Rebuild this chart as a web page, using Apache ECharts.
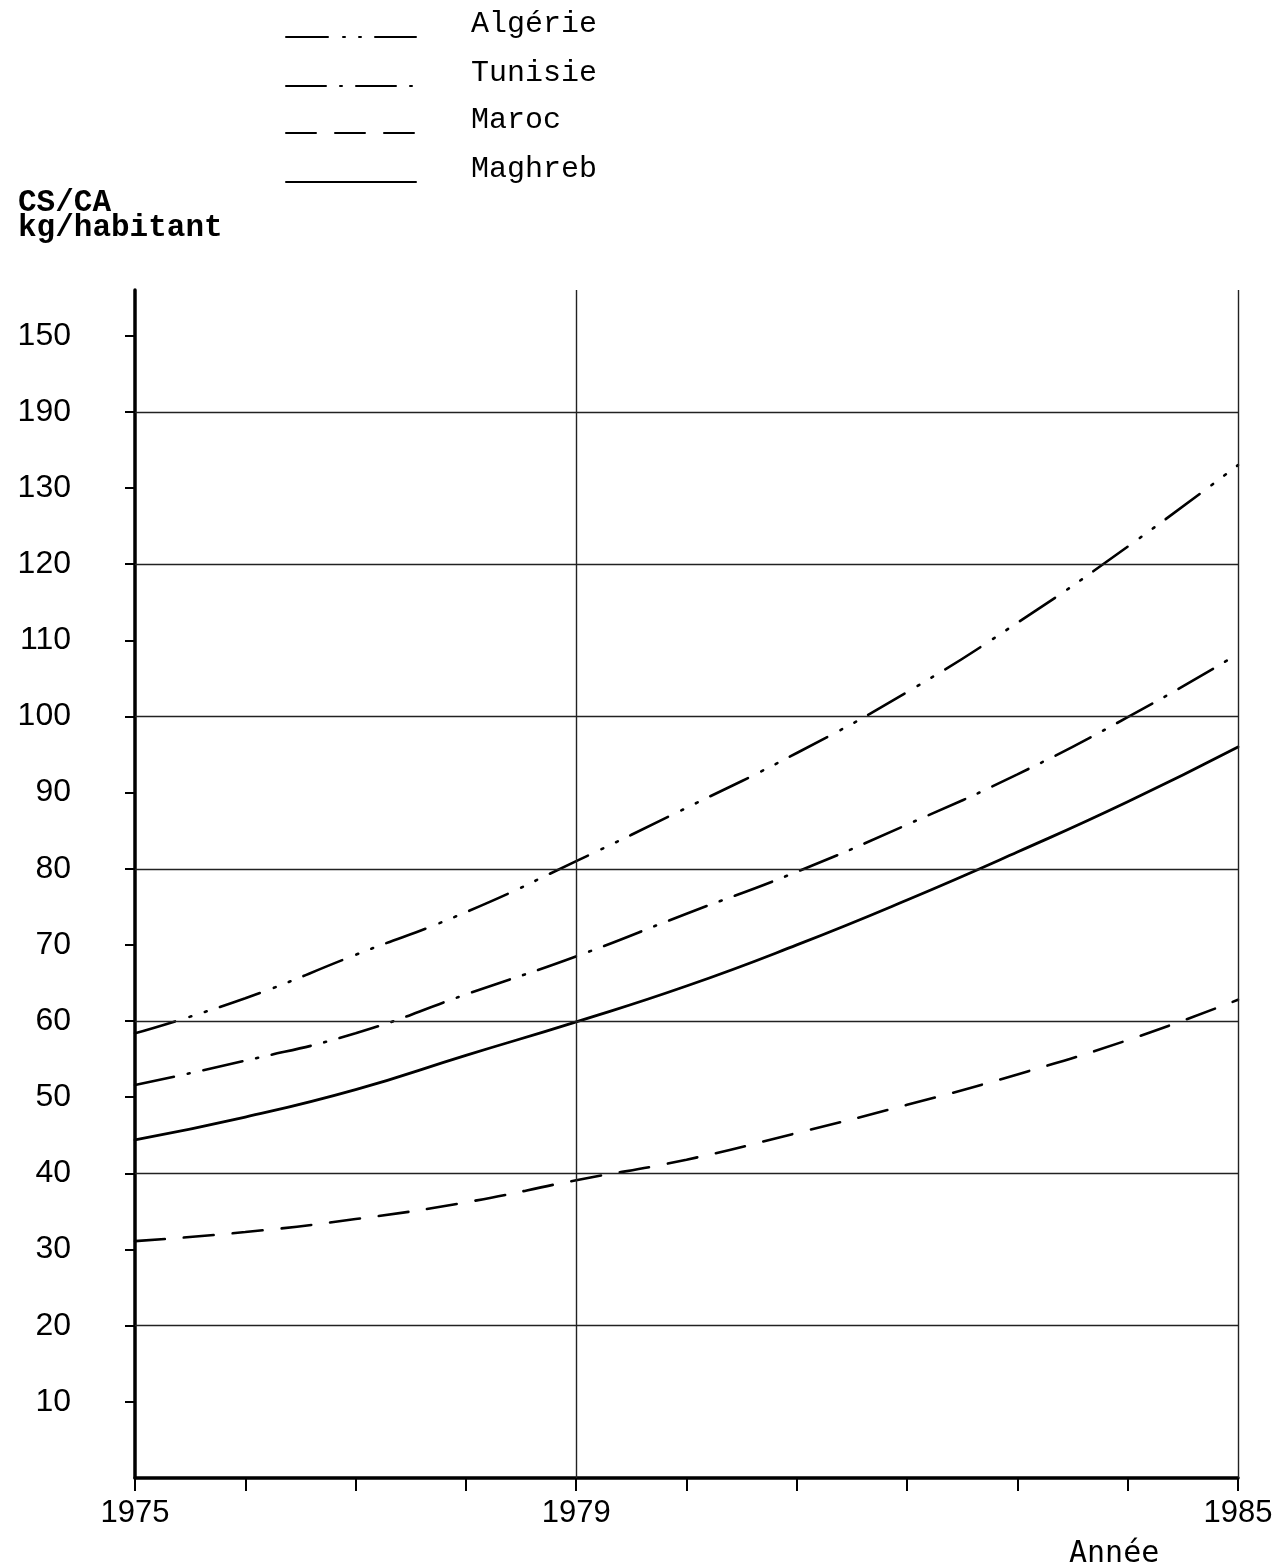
<!DOCTYPE html>
<html>
<head>
<meta charset="utf-8">
<script src="https://cdn.jsdelivr.net/npm/echarts@6/dist/echarts.min.js"></script>
<style>
html,body{margin:0;padding:0;background:#fff;}
#chart{width:1277px;height:1568px;}
</style>
</head>
<body>
<div id="chart"></div>
<script>
// ---- data ----
const years = [1975,1976,1977,1978,1979,1980,1981,1982,1983,1984,1985];
const algerie = [58.4,63.0,68.7,74.3,81.0,88.0,95.2,103.2,112.3,122.3,133.0];
const tunisie = [51.6,54.8,58.4,63.5,68.5,74.1,79.6,85.8,92.4,99.9,108.2];
const maroc   = [31.1,32.3,34.0,36.2,39.1,41.8,45.3,49.0,53.0,57.5,62.8];
const maghreb = [44.4,47.4,51.0,55.5,59.9,64.6,70.0,75.9,82.2,88.8,96.0];
const yTickValues = [10,20,30,40,50,60,70,80,90,100,110,120,130,140,150];
const yTickLabels = ['10','20','30','40','50','60','70','80','90','100','110','120','130','190','150'];
const xLabelValues = [1975,1979,1985];
const xLabelTexts = ['1975','1979','1985'];
const gridYValues = [20,40,60,80,100,120,140];
const gridXValues = [1979,1985];
const legendLabels = ['Algérie','Tunisie','Maroc','Maghreb'];

// ---- chart ----
const chart = echarts.init(document.getElementById('chart'), null, {renderer:'canvas'});
const pairs = arr => years.map((y,i)=>[y,arr[i]]);
const dashes = {
  'Algérie':[42,15,2,14,2,14],
  'Tunisie':[40,14,2,14],
  'Maroc':[30,19],
  'Maghreb':'solid'
};
const dataArr = {'Algérie':algerie,'Tunisie':tunisie,'Maroc':maroc,'Maghreb':maghreb};
const legendTops = [9,58,105,154];
const monoFont = '"Liberation Mono","DejaVu Sans Mono",monospace';

const series = legendLabels.map(name => ({
  type:'line', smooth:true, symbol:'none', showSymbol:false, silent:true,
  name: name,
  data: pairs(dataArr[name]),
  lineStyle:{color:'#000', width: name==='Maghreb'?2.8:2.6, type: dashes[name], cap:'round'},
  itemStyle:{color:'#000'}
}));
series[3].markLine = {
  silent:true, symbol:['none','none'], label:{show:false},
  lineStyle:{color:'#222', width:1.4, type:'solid'},
  data: gridYValues.map(v=>({yAxis:v})).concat(gridXValues.map(v=>({xAxis:v})))
};

const option = {
  animation:false,
  backgroundColor:'#fff',
  title:[
    {text:'CS/CA\nkg/habitant', left:13, top:186,
     textStyle:{fontFamily:monoFont, fontSize:31, fontWeight:'bold', color:'#000', lineHeight:25}},
    {text:'Année', left:1064, top:1534,
     textStyle:{fontFamily:'"DejaVu Sans Mono",monospace', fontSize:30, fontWeight:'normal', color:'#000'}}
  ],
  legend: legendLabels.map((name,i)=>({
    data:[name], orient:'vertical', left:285, top:legendTops[i], padding:0,
    itemWidth:130, itemHeight:30, selectedMode:false,
    itemStyle:{opacity:0, borderWidth:0},
    formatter: n => '{a|' + n + '}\n{b|}',
    textStyle:{fontFamily:monoFont, fontSize:30, color:'#000', padding:[0,0,0,50],
      rich:{a:{fontFamily:monoFont, fontSize:30, lineHeight:30, color:'#000'},
            b:{fontSize:10, lineHeight:26}}}
  })),
  grid:{left:135, right:39, top:290, bottom:90, containLabel:false, outerBoundsMode:'none'},
  xAxis:{
    type:'value', min:1975, max:1985, interval:1,
    axisLine:{show:true, lineStyle:{color:'#000', width:3.5}},
    axisTick:{show:true, inside:false, length:13, lineStyle:{color:'#000', width:2}},
    axisLabel:{customValues:xLabelValues, margin:20,
      formatter:v=>{const i=xLabelValues.indexOf(v); return i>=0?xLabelTexts[i]:'';},
      fontFamily:'"Liberation Sans",Arial,sans-serif', fontSize:31, color:'#000'},
    splitLine:{show:false}
  },
  yAxis:{
    type:'value', min:0, max:156,
    axisLine:{show:true, lineStyle:{color:'#000', width:3.5}},
    axisTick:{show:true, customValues:yTickValues, length:10, lineStyle:{color:'#000', width:2}},
    axisLabel:{customValues:yTickValues, margin:64,
      formatter:v=>{const i=yTickValues.indexOf(v); return i>=0?yTickLabels[i]:'';},
      fontFamily:'"Liberation Sans",Arial,sans-serif', fontSize:32, color:'#000'},
    splitLine:{show:false}
  },
  series: series
};
chart.setOption(option);
</script>
</body>
</html>
